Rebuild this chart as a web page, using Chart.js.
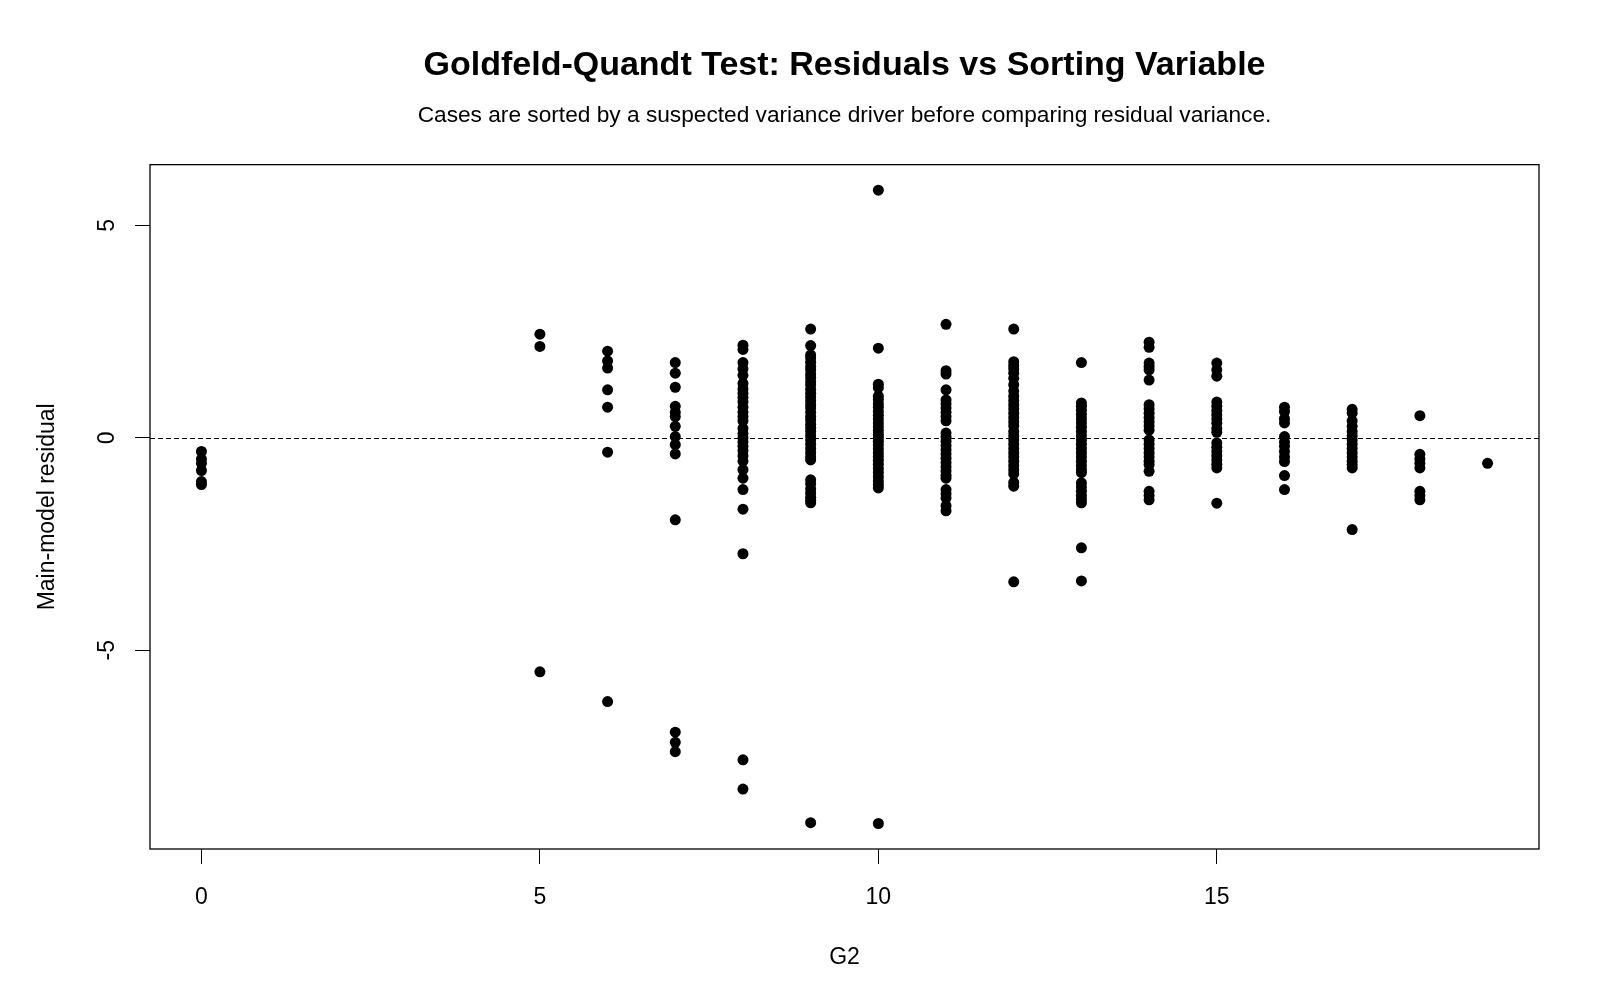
<!DOCTYPE html>
<html>
<head>
<meta charset="utf-8">
<script src="https://cdn.jsdelivr.net/npm/chart.js@4.4.1/dist/chart.umd.min.js"></script>
<style>
  body { margin: 0; background: #fff; }
</style>
</head>
<body>
<canvas id="gqChart" width="1600" height="1000"></canvas>
<script>
// G2 values (sorting variable) and residuals, one list per G2 value
const g2Values = [0, 5, 6, 7, 8, 9, 10, 11, 12, 13, 14, 15, 16, 17, 18, 19];

const res0 = [-0.32, -0.5, -0.6, -0.77, -1.03, -1.1];
const res5 = [2.44, 2.15, -5.51];
const res6 = [2.04, 1.81, 1.64, 1.13, 0.72, -0.34, -6.21];
const res7 = [1.77, 1.52, 1.19, 0.74, 0.6, 0.5, 0.27, 0.03, -0.16, -0.38, -1.93, -6.93, -7.17, -7.39];
const res8 = [2.18, 2.08, 1.77, 1.62, 1.47, 1.28, 1.15, 1.05, 0.95, 0.85, 0.72, 0.6, 0.5, 0.4, 0.22, 0.1, 0.0, -0.1, -0.2, -0.3, -0.42, -0.55, -0.75, -0.95, -1.22, -1.68, -2.73, -7.58, -8.27];
const res9 = [2.56, 2.17, 1.95, 1.88, 1.78, 1.68, 1.6, 1.5, 1.42, 1.32, 1.24, 1.14, 1.05, 0.96, 0.87, 0.78, 0.7, 0.6, 0.5, 0.42, 0.32, 0.24, 0.15, 0.05, -0.05, -0.15, -0.25, -0.35, -0.45, -0.52, -0.99, -1.08, -1.2, -1.3, -1.4, -1.47, -1.53, -9.06];
const res10 = [5.83, 2.11, 1.26, 1.18, 0.98, 0.9, 0.8, 0.72, 0.62, 0.53, 0.44, 0.35, 0.26, 0.17, 0.08, 0.0, -0.08, -0.17, -0.26, -0.35, -0.44, -0.53, -0.62, -0.72, -0.82, -0.92, -1.02, -1.1, -1.18, -9.08];
const res11 = [2.67, 1.58, 1.5, 1.13, 0.89, 0.8, 0.7, 0.6, 0.5, 0.4, 0.11, 0.02, -0.08, -0.18, -0.28, -0.38, -0.48, -0.58, -0.68, -0.78, -0.88, -0.95, -1.22, -1.32, -1.42, -1.6, -1.72];
const res12 = [2.56, 1.79, 1.7, 1.62, 1.52, 1.4, 1.25, 1.1, 0.98, 0.88, 0.78, 0.68, 0.58, 0.48, 0.38, 0.28, 0.15, 0.05, -0.05, -0.15, -0.25, -0.35, -0.45, -0.55, -0.65, -0.75, -0.85, -1.05, -1.14, -3.39];
const res13 = [1.77, 0.82, 0.74, 0.65, 0.55, 0.45, 0.35, 0.25, 0.15, 0.05, -0.05, -0.15, -0.25, -0.35, -0.45, -0.55, -0.65, -0.75, -0.82, -1.06, -1.16, -1.26, -1.36, -1.45, -1.53, -2.59, -3.37];
const res14 = [2.25, 2.13, 1.76, 1.68, 1.6, 1.36, 0.78, 0.68, 0.58, 0.48, 0.38, 0.28, 0.18, -0.05, -0.15, -0.25, -0.35, -0.45, -0.55, -0.63, -0.79, -1.26, -1.36, -1.46];
const res15 = [1.76, 1.6, 1.45, 0.84, 0.74, 0.64, 0.54, 0.44, 0.34, 0.22, 0.13, -0.12, -0.22, -0.32, -0.42, -0.52, -0.62, -0.71, -1.54];
const res16 = [0.72, 0.62, 0.45, 0.35, 0.03, -0.1, -0.2, -0.32, -0.45, -0.56, -0.89, -1.22];
const res17 = [0.67, 0.58, 0.4, 0.27, 0.15, 0.05, -0.05, -0.15, -0.25, -0.35, -0.45, -0.55, -0.63, -0.71, -2.16];
const res18 = [0.52, -0.39, -0.5, -0.6, -0.71, -1.26, -1.36, -1.46];
const res19 = [-0.6];

const residualLists = [res0, res5, res6, res7, res8, res9, res10, res11, res12, res13, res14, res15, res16, res17, res18, res19];

const xTicks = [0, 5, 10, 15];
const yTicks = [-5, 0, 5];

// one point per case
const points = [];
g2Values.forEach((g, i) => {
    residualLists[i].forEach((r) => points.push({ x: g, y: r }));
});

Chart.defaults.font.family = "'Liberation Sans', Arial, sans-serif";
Chart.defaults.color = '#000';

// box around the plot region + dashed reference line at 0
const framePlugin = {
    id: 'frameAndZero',
    beforeDatasetsDraw(chart) {
        const { ctx, chartArea, scales } = chart;
        const y = Math.round(scales.y.getPixelForValue(0)) + 0.5;
        ctx.save();
        ctx.strokeStyle = '#000';
        ctx.lineWidth = 1;
        ctx.setLineDash([5, 3]);
        ctx.beginPath();
        ctx.moveTo(chartArea.left, y);
        ctx.lineTo(chartArea.right, y);
        ctx.stroke();
        ctx.restore();
    },
    afterDraw(chart) {
        const { ctx, chartArea } = chart;
        ctx.save();
        ctx.strokeStyle = '#000';
        ctx.lineWidth = 1.3;
        ctx.strokeRect(chartArea.left, chartArea.top, chartArea.right - chartArea.left, chartArea.bottom - chartArea.top);
        ctx.restore();
    }
};

const ctx = document.getElementById('gqChart').getContext('2d');
const gqChart = new Chart(ctx, {
    type: 'scatter',
    data: {
        datasets: [{
            data: points,
            backgroundColor: '#000',
            borderWidth: 0,
            pointRadius: 5.5,
            pointHoverRadius: 5.5,
        }],
    },
    options: {
        responsive: false,
        animation: false,
        layout: { padding: { left: 0, right: 61, top: 0, bottom: 0 } },
        plugins: {
            legend: { display: false },
            tooltip: { enabled: false },
            title: {
                display: true,
                text: 'Goldfeld-Quandt Test: Residuals vs Sorting Variable',
                font: { size: 34, weight: 'bold' },
                color: '#000',
                fullSize: false,
                padding: { top: 45, bottom: 0 },
            },
            subtitle: {
                display: true,
                text: 'Cases are sorted by a suspected variance driver before comparing residual variance.',
                font: { size: 22.7 },
                color: '#000',
                fullSize: false,
                padding: { top: 16, bottom: 35.6 },
            },
        },
        scales: {
            x: {
                type: 'linear',
                min: -0.76,
                max: 19.76,
                afterBuildTicks: (scale) => { scale.ticks = xTicks.map((v) => ({ value: v })); },
                afterFit: (scale) => { scale.height = 151; },
                ticks: { font: { size: 23 }, color: '#000', padding: 19.5, maxRotation: 0 },
                grid: { drawOnChartArea: false, drawTicks: true, tickLength: 15, color: '#000', lineWidth: 1 },
                border: { display: false },
                title: {
                    display: true,
                    text: 'G2',
                    font: { size: 23 },
                    color: '#000',
                    padding: { top: 0, bottom: 29 },
                },
            },
            y: {
                type: 'linear',
                min: -9.68,
                max: 6.43,
                afterBuildTicks: (scale) => { scale.ticks = yTicks.map((v) => ({ value: v })); },
                afterFit: (scale) => { scale.width = 150; },
                ticks: { font: { size: 23 }, color: '#000', padding: 17, minRotation: 90, maxRotation: 90, crossAlign: 'center' },
                grid: { drawOnChartArea: false, drawTicks: true, tickLength: 15, color: '#000', lineWidth: 1 },
                border: { display: false },
                title: {
                    display: true,
                    text: 'Main-model residual',
                    font: { size: 23 },
                    color: '#000',
                    padding: { top: 34, bottom: 0 },
                },
            },
        },
    },
    plugins: [framePlugin],
});
</script>
</body>
</html>
